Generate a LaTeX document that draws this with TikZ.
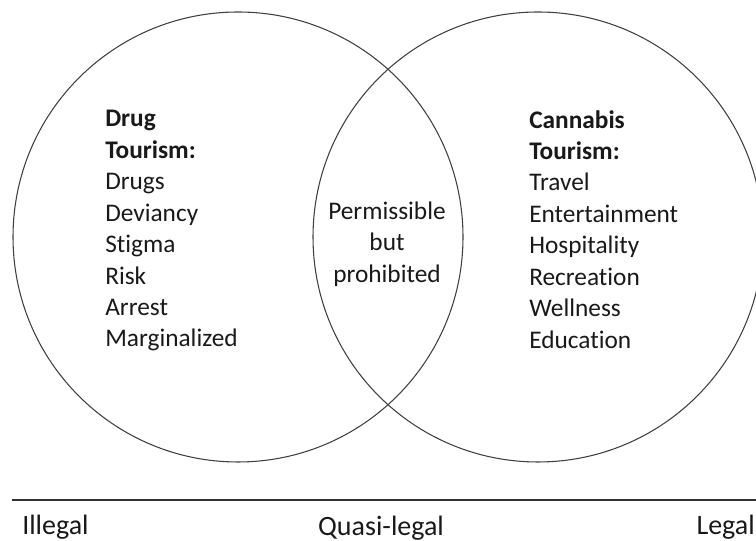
\documentclass[tikz,border=0pt]{standalone}
\usepackage{fontspec}
\setmainfont{Carlito}[Ligatures=NoCommon]
\usepackage{tikz}
\usetikzlibrary{positioning}

\begin{document}
\begin{tikzpicture}[x=0.75pt, y=0.75pt]
  % one unit = one pixel of the original figure, origin bottom left
  \def\midy{304}     % height of both circle centres
  \def\axisy{41}     % height of the legality axis
  \tikzset{
    ring/.style={draw=black!75, line width=0.8pt, circle, minimum size=337.5pt, inner sep=0pt},
    listtext/.style={font=\fontsize{19}{23.6}\selectfont, align=left, inner sep=0pt, text=black!90},
    scaletext/.style={font=\fontsize{21}{25}\selectfont, inner sep=0pt, text=black!90}
  }
  \useasboundingbox (0,0) rectangle (756,541);
  \node[ring] (drug) at (238,\midy) {};
  \node[ring] (cannabis) at (538,\midy) {};
  % lists inside the two circles and the overlap
  \node[listtext, anchor=north west] (druglist) at (105,431)
    {\textbf{Drug}\\\textbf{Tourism:}\\Drugs\\Deviancy\\Stigma\\Risk\\Arrest\\Marginalized};
  \node[listtext, anchor=north west] (cannalist) at (529,431)
    {\textbf{Cannabis}\\\textbf{Tourism:}\\Travel\\Entertainment\\Hospitality\\Recreation\\Wellness\\Education};
  \node[listtext, align=center] (overlap) at (387,297) {Permissible\\but\\prohibited};
  % legality axis
  \coordinate (axisL) at (12,\axisy);
  \coordinate (axisR) at (756,\axisy);
  \draw[black!80, line width=1pt] (axisL) -- (axisR);
  \node[scaletext, anchor=west] (illegal) at (22,14) {Illegal};
  \node[scaletext] (quasi) at (381,13) {Quasi-legal};
  \node[scaletext, anchor=east] (legal) at (755,14) {Legal};
\end{tikzpicture}
\end{document}
